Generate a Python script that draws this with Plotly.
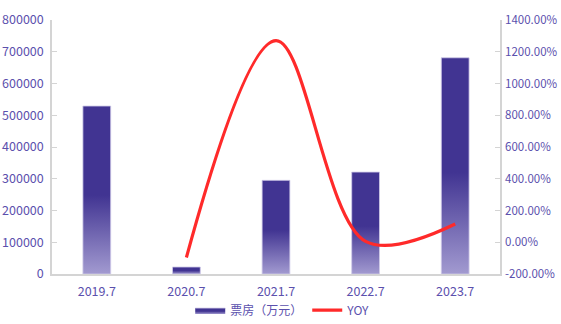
import plotly.graph_objects as go

# Box office (10k CNY) and year-over-year growth, July of each year
categories = ["2019.7", "2020.7", "2021.7", "2022.7", "2023.7"]
box_office = [529000, 22000, 295000, 321000, 681000]
yoy_pct = [None, -96, 1270, 6, 115]

left_ticks = [0, 100000, 200000, 300000, 400000, 500000, 600000, 700000, 800000]
right_ticks = [-200, 0, 200, 400, 600, 800, 1000, 1200, 1400]

TEXT = "#5b50ad"
AXIS = "#d4d4d4"
BAR_DARK = "#413492"
BAR_LIGHT = "#a29ad0"
BAR_W = 0.31

xs = list(range(len(categories)))
fig = go.Figure()

# Each column is a filled polygon so it can carry its own vertical gradient
for i, v in zip(xs, box_office):
    fig.add_trace(go.Scatter(
        x=[i - BAR_W / 2, i + BAR_W / 2, i + BAR_W / 2, i - BAR_W / 2, i - BAR_W / 2],
        y=[0, 0, v, v, 0],
        mode="lines",
        fill="toself",
        line=dict(width=0.8, color="#cfcae8"),
        fillgradient=dict(
            type="vertical",
            colorscale=[[0, BAR_LIGHT], [0.47, BAR_DARK], [1, BAR_DARK]],
        ),
        name="票房（万元）",
        legendgroup="bo",
        showlegend=(i == 0),
        hoverinfo="skip",
    ))

fig.add_trace(go.Scatter(
    x=xs,
    y=yoy_pct,
    mode="lines",
    line=dict(color="#ff2a2a", width=3.2, shape="spline", smoothing=1.0),
    name="YOY",
    yaxis="y2",
))

fig.update_layout(
    width=561,
    height=324,
    margin=dict(l=52, r=61, t=20, b=50, autoexpand=False),
    plot_bgcolor="white",
    paper_bgcolor="white",
    font=dict(family="Noto Sans CJK SC, Noto Sans, sans-serif", color=TEXT, size=12),
    xaxis=dict(
        range=[-0.5, len(categories) - 0.5],
        tickmode="array",
        tickvals=xs,
        ticktext=categories,
        showline=True,
        linecolor=AXIS,
        linewidth=1.5,
        ticks="",
        ticklabelstandoff=5,
        showgrid=False,
        zeroline=False,
        tickfont=dict(size=12.5, color=TEXT),
    ),
    yaxis=dict(
        range=[0, 800000],
        tickmode="array",
        tickvals=left_ticks,
        ticktext=[str(t) for t in left_ticks],
        showline=True,
        linecolor=AXIS,
        linewidth=1.5,
        ticks="inside",
        ticklen=5,
        tickcolor=AXIS,
        ticklabelstandoff=4,
        showgrid=False,
        zeroline=False,
        tickfont=dict(size=12.5, color=TEXT),
    ),
    yaxis2=dict(
        overlaying="y",
        side="right",
        range=[-200, 1400],
        tickmode="array",
        tickvals=right_ticks,
        ticktext=[f"{t:.2f}%" for t in right_ticks],
        showline=True,
        linecolor=AXIS,
        linewidth=1.5,
        ticks="inside",
        ticklen=5,
        tickcolor=AXIS,
        ticklabelstandoff=1,
        showgrid=False,
        zeroline=False,
        tickfont=dict(size=11.5, color=TEXT),
    ),
    legend=dict(
        orientation="h",
        x=0.515,
        xanchor="center",
        y=-0.142,
        yanchor="middle",
        font=dict(size=12, color=TEXT),
        itemwidth=30,
    ),
)

fig.write_html("out.html")
